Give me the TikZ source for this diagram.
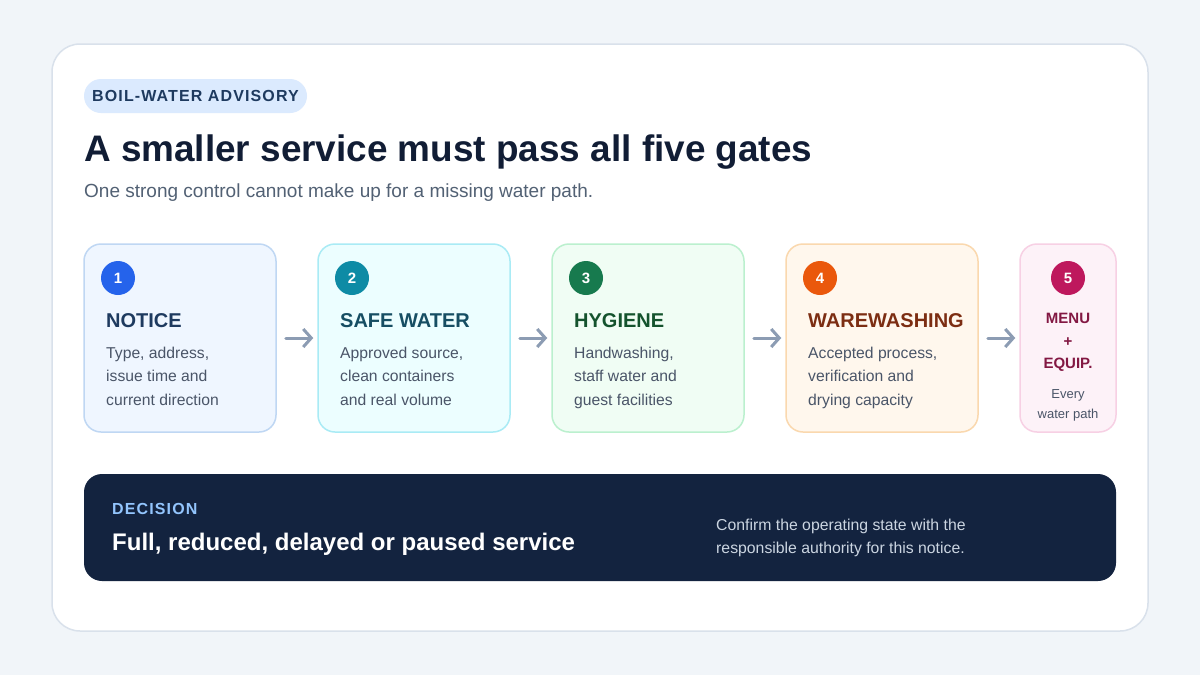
\documentclass[tikz,border=0pt]{standalone}
\usepackage{fontspec}
\setmainfont{Liberation Sans}
\newfontfamily\spacedfont[LetterSpace=7]{Liberation Sans}
\usepackage{tikz}
\usetikzlibrary{positioning}
\usetikzlibrary{arrows.meta}

\definecolor{pageBg}{HTML}{F1F5F9}
\definecolor{cardLine}{HTML}{D9E1EB}
\definecolor{pillFill}{HTML}{DBEAFE}
\definecolor{navyText}{HTML}{1E3A5F}
\definecolor{titleInk}{HTML}{111D35}
\definecolor{subGray}{HTML}{526174}
\definecolor{bodyGray}{HTML}{4A5568}
\definecolor{arrowGray}{HTML}{8C9CB3}
\definecolor{decisionFill}{HTML}{13233F}
\definecolor{decisionLabel}{HTML}{93C5FD}
\definecolor{decisionNote}{HTML}{CBD5E1}

\definecolor{noticeFill}{HTML}{EFF6FF}
\definecolor{noticeLine}{HTML}{BFD7F3}
\definecolor{noticeDot}{HTML}{2563EB}
\definecolor{waterFill}{HTML}{ECFEFF}
\definecolor{waterLine}{HTML}{A9EBF5}
\definecolor{waterDot}{HTML}{0E8BA5}
\definecolor{waterInk}{HTML}{164E63}
\definecolor{hygieneFill}{HTML}{F0FDF4}
\definecolor{hygieneLine}{HTML}{BBF0CE}
\definecolor{hygieneDot}{HTML}{177A4E}
\definecolor{hygieneInk}{HTML}{14532D}
\definecolor{washFill}{HTML}{FFF7ED}
\definecolor{washLine}{HTML}{FAD8AE}
\definecolor{washDot}{HTML}{EA580C}
\definecolor{washInk}{HTML}{7C2D12}
\definecolor{menuFill}{HTML}{FDF2F8}
\definecolor{menuLine}{HTML}{F7D0E4}
\definecolor{menuDot}{HTML}{BE185D}
\definecolor{menuInk}{HTML}{831843}

\tikzset{
  gateBox/.style={rectangle, rounded corners=17pt, line width=1.5pt, minimum height=188pt, inner sep=0pt},
  gateNum/.style={circle, minimum size=34pt, inner sep=0pt, text=white, font=\fontsize{15}{18}\selectfont\bfseries},
  gateTitle/.style={anchor=base west, inner sep=0pt, font=\fontsize{20}{24}\selectfont\bfseries},
  gateText/.style={anchor=north west, inner sep=0pt, align=left, text=bodyGray, font=\fontsize{15.7}{23.5}\selectfont},
  gateArrow/.style={-{Straight Barb[length=8pt,width=18pt]}, line width=3pt, line cap=round, draw=arrowGray, shorten <=9pt, shorten >=4pt}
}

\begin{document}
\begin{tikzpicture}[x=1pt, y=-1pt]
	\useasboundingbox (0,0) rectangle (1200,675);
	\fill[pageBg] (0,0) rectangle (1200,675);

	\node[rectangle, rounded corners=28pt, fill=white, draw=cardLine, line width=1.5pt, minimum width=1096pt, minimum height=587pt](cardBox) at (600,337.5){};

	\node[rectangle, rounded corners=17pt, fill=pillFill, minimum width=223pt, minimum height=34pt, inner sep=0pt, text=navyText, font=\fontsize{16}{18}\spacedfont\bfseries](advisoryPill) at (195.5,96){BOIL-WATER ADVISORY};
	\node[anchor=base west, inner sep=0pt, text=titleInk, font=\fontsize{36.9}{40}\selectfont\bfseries](mainTitle) at (84,161){A smaller service must pass all five gates};
	\node[anchor=base west, inner sep=0pt, text=subGray, font=\fontsize{19}{22}\selectfont](subTitle) at (84,197){One strong control cannot make up for a missing water path.};

	\node[gateBox, fill=noticeFill,  draw=noticeLine,  minimum width=192pt](noticeBox)  at (180,338){};
	\node[gateBox, fill=waterFill,   draw=waterLine,   minimum width=192pt](waterBox)   at (414,338){};
	\node[gateBox, fill=hygieneFill, draw=hygieneLine, minimum width=192pt](hygieneBox) at (648,338){};
	\node[gateBox, fill=washFill,    draw=washLine,    minimum width=192pt](washBox)    at (882,338){};
	\node[gateBox, fill=menuFill,    draw=menuLine,    minimum width=96pt](menuBox)     at (1068,338){};

	\node[gateNum, fill=noticeDot ](noticeNum)  at (118,278){1};
	\node[gateNum, fill=waterDot  ](waterNum)   at (352,278){2};
	\node[gateNum, fill=hygieneDot](hygieneNum) at (586,278){3};
	\node[gateNum, fill=washDot   ](washNum)    at (820,278){4};
	\node[gateNum, fill=menuDot   ](menuNum)    at (1068,278){5};

	\node[gateTitle, text=navyText  ](noticeTitle)  at (106,327.5){NOTICE};
	\node[gateTitle, text=waterInk  ](waterTitle)   at (340,327.5){SAFE WATER};
	\node[gateTitle, text=hygieneInk](hygieneTitle) at (574,327.5){HYGIENE};
	\node[gateTitle, text=washInk   ](washTitle)    at (808,327.5){WAREWASHING};

	\node[gateText](noticeText)  at (106,346.5){Type, address,\\issue time and\\current direction};
	\node[gateText](waterText)   at (340,346.5){Approved source,\\clean containers\\and real volume};
	\node[gateText](hygieneText) at (574,346.5){Handwashing,\\staff water and\\guest facilities};
	\node[gateText](washText)    at (808,346.5){Accepted process,\\verification and\\drying capacity};

	\node[anchor=north, inner sep=0pt, align=center, text=menuInk, font=\fontsize{15}{22.4}\selectfont\bfseries](menuTitle) at (1068,313.3){MENU\\+\\EQUIP.};
	\node[anchor=north, inner sep=0pt, align=center, text=bodyGray, font=\fontsize{13}{20.5}\selectfont](menuText) at (1068,389.3){Every\\water path};

	\draw[gateArrow] (noticeBox.east)  -- (waterBox.west);
	\draw[gateArrow] (waterBox.east)   -- (hygieneBox.west);
	\draw[gateArrow] (hygieneBox.east) -- (washBox.west);
	\draw[gateArrow] (washBox.east)    -- (menuBox.west);

	\node[rectangle, rounded corners=18pt, fill=decisionFill, minimum width=1032pt, minimum height=107pt](decisionBox) at (600,527.5){};
	\node[anchor=base west, inner sep=0pt, text=decisionLabel, font=\fontsize{16}{18}\spacedfont\bfseries](decisionLabel) at (112,514.7){DECISION};
	\node[anchor=base west, inner sep=0pt, text=white, font=\fontsize{24}{28}\selectfont\bfseries](decisionText) at (112,550.6){Full, reduced, delayed or paused service};
	\node[anchor=north west, inner sep=0pt, align=left, text=decisionNote, font=\fontsize{15.8}{23.5}\selectfont](decisionNote) at (716,518.5){Confirm the operating state with the\\responsible authority for this notice.};
\end{tikzpicture}
\end{document}
